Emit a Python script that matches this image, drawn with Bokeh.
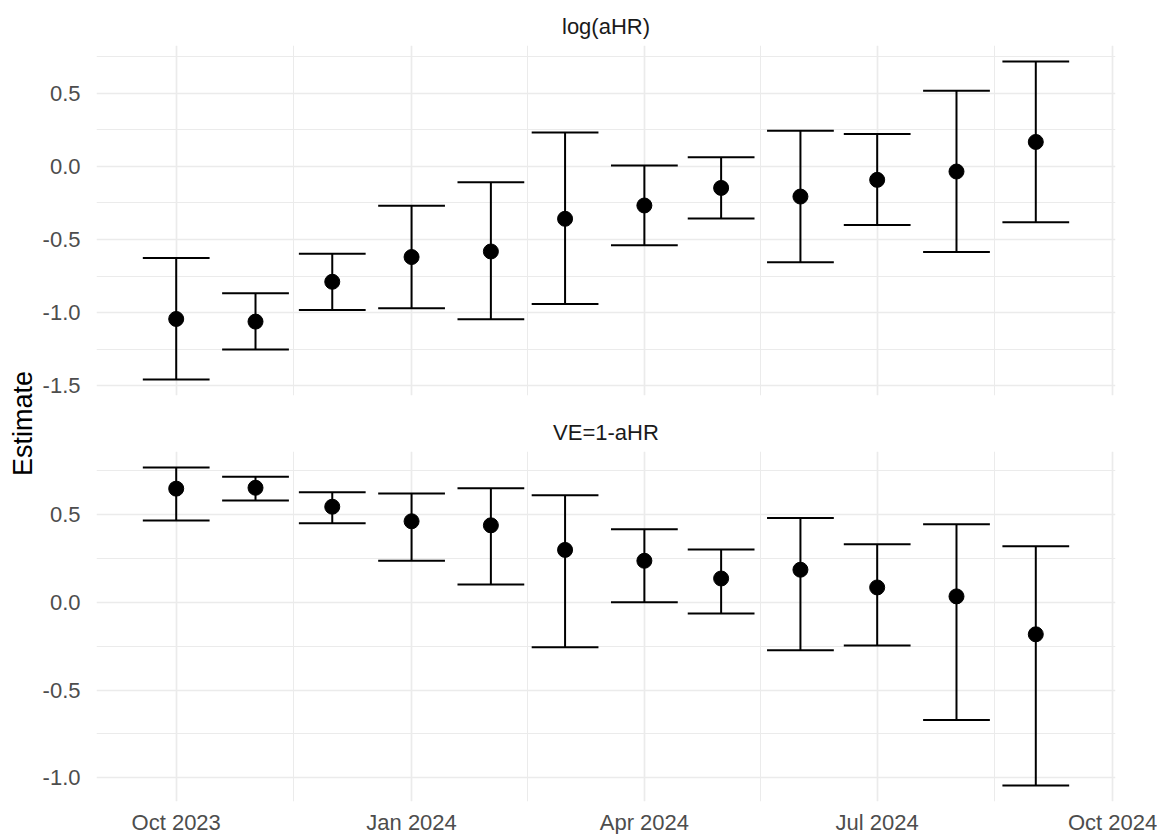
import numpy as np
from math import pi
from bokeh.plotting import figure
from bokeh.models import Range1d, FixedTicker, DatetimeTickFormatter, PrintfTickFormatter, ColumnDataSource
from bokeh.layouts import row, column
from bokeh.core.properties import value
from bokeh.embed import file_html
from bokeh.resources import INLINE

# ---------------- data ----------------
months = ["2023-10-01", "2023-11-01", "2023-12-01", "2024-01-01", "2024-02-01", "2024-03-01",
          "2024-04-01", "2024-05-01", "2024-06-01", "2024-07-01", "2024-08-01", "2024-09-01"]

log_est = [-1.043, -1.061, -0.789, -0.620, -0.582, -0.359, -0.268, -0.148, -0.207, -0.093, -0.036, 0.166]
log_lo = [-1.457, -1.252, -0.982, -0.970, -1.045, -0.941, -0.539, -0.357, -0.655, -0.402, -0.586, -0.382]
log_hi = [-0.627, -0.868, -0.598, -0.270, -0.109, 0.230, 0.005, 0.061, 0.243, 0.220, 0.516, 0.716]

ve_est = [0.648, 0.653, 0.545, 0.462, 0.439, 0.299, 0.237, 0.136, 0.186, 0.085, 0.034, -0.182]
ve_lo = [0.466, 0.581, 0.451, 0.237, 0.102, -0.256, 0.000, -0.063, -0.273, -0.246, -0.670, -1.044]
ve_hi = [0.769, 0.716, 0.627, 0.621, 0.650, 0.610, 0.417, 0.301, 0.481, 0.331, 0.445, 0.320]

panel_titles = ["log(aHR)", "VE=1-aHR"]
x_major = ["2023-10-01", "2024-01-01", "2024-04-01", "2024-07-01", "2024-10-01"]
top_yticks = [-1.5, -1.0, -0.5, 0.0, 0.5]
bot_yticks = [-1.0, -0.5, 0.0, 0.5]
y_label = "Estimate"

# ---------------- helpers ----------------
def to_ms(dates):
    return np.array(dates, dtype="datetime64[ms]").astype(np.int64).astype(float)

xd = to_ms(months)
half_w = 0.45 * np.min(np.diff(xd))          # ggplot default errorbar width 0.9 * resolution
xmaj = to_ms(x_major)
xmin_ticks = list((xmaj[:-1] + xmaj[1:]) / 2)
x_lo, x_hi = xd.min() - half_w, xd.max() + half_w
pad = 0.05 * (x_hi - x_lo)
x_lo, x_hi = x_lo - pad, x_hi + pad

FONT = "Liberation Sans"
GRID = "#EBEBEB"


def panel(est, lo, hi, yticks, title, show_x, top_border, bottom_border):
    ylo, yhi = min(lo), max(hi)
    ypad = 0.05 * (yhi - ylo)
    p = figure(frame_width=1019, frame_height=350,
               x_range=Range1d(x_lo, x_hi), y_range=Range1d(ylo - ypad, yhi + ypad),
               x_axis_type="datetime", x_axis_location="below" if show_x else None,
               toolbar_location=None, output_backend="svg",
               min_border_left=58, min_border_right=42,
               min_border_top=top_border, min_border_bottom=bottom_border,
               outline_line_color=None, background_fill_color="white",
               border_fill_color="white")
    p.title.text = title
    p.title.align = "center"
    p.title.text_font = FONT
    p.title.text_font_size = "22px"
    p.title.text_font_style = "normal"
    p.title.text_color = "#1A1A1A"
    p.title.standoff = 13

    xt = FixedTicker(ticks=list(xmaj), minor_ticks=xmin_ticks)
    yt = FixedTicker(ticks=yticks, minor_ticks=[t + 0.25 for t in yticks] + [yticks[0] - 0.25])
    p.xgrid.ticker = xt
    p.ygrid.ticker = yt
    for g in (p.xgrid, p.ygrid):
        g.grid_line_color = GRID
        g.grid_line_width = 1.7
        g.minor_grid_line_color = GRID
        g.minor_grid_line_width = 1.0

    p.yaxis.ticker = yt
    p.yaxis.formatter = PrintfTickFormatter(format="%.1f")
    if show_x:
        p.xaxis.ticker = xt
        p.xaxis.formatter = DatetimeTickFormatter(days="%b %Y", months="%b %Y", years="%b %Y")
    for ax in p.axis:
        ax.axis_line_color = None
        ax.major_tick_line_color = None
        ax.minor_tick_line_color = None
        ax.major_label_text_font = FONT
        ax.major_label_text_font_size = "22px"
        ax.major_label_text_color = "#4D4D4D"
    p.yaxis.major_label_standoff = 10
    if show_x:
        p.xaxis.major_label_standoff = 2

    src = ColumnDataSource(dict(x=xd, est=est, lo=lo, hi=hi,
                                x0=xd - half_w, x1=xd + half_w))
    p.segment(x0="x", y0="lo", x1="x", y1="hi", source=src, line_color="black", line_width=2)
    p.segment(x0="x0", y0="lo", x1="x1", y1="lo", source=src, line_color="black", line_width=2)
    p.segment(x0="x0", y0="hi", x1="x1", y1="hi", source=src, line_color="black", line_width=2)
    p.scatter(x="x", y="est", source=src, size=15, color="black")
    return p


top = panel(log_est, log_lo, log_hi, top_yticks, panel_titles[0], False, 45, 6)
bot = panel(ve_est, ve_lo, ve_hi, bot_yticks, panel_titles[1], True, 50, 28)

lab = figure(width=38, height=832, x_range=Range1d(0, 38), y_range=Range1d(0, 832),
             x_axis_location=None, y_axis_location=None, toolbar_location=None,
             output_backend="svg", min_border=0, outline_line_color=None)
lab.grid.visible = False
lab.text(x=[22], y=[409], text=[y_label], angle=pi / 2, text_align="center",
         text_baseline="middle", text_font=value(FONT), text_font_size="27px", text_color="black")

layout = row(lab, column(top, bot, spacing=0), spacing=0)

open("out.html", "w").write(file_html(layout, INLINE))
